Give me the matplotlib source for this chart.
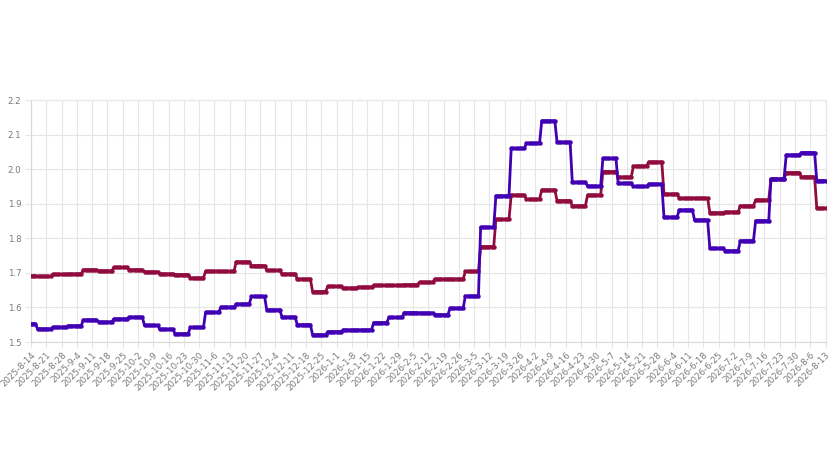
import numpy as np
import matplotlib
matplotlib.use('Agg')
import matplotlib.pyplot as plt

# ================= 資料區 =================
# 每段天數：開頭 3 天、中間 51 週、最後 5 天（共 365 天）
block_days = [3] + [7] * 51 + [5]

# 各段的水準值
red_levels = [
    1.692, 1.690, 1.696, 1.697, 1.709, 1.706, 1.716, 1.709, 1.703, 1.697,
    1.695, 1.685, 1.705, 1.704, 1.732, 1.721, 1.707, 1.697, 1.682, 1.646,
    1.661, 1.656, 1.659, 1.664, 1.664, 1.666, 1.673, 1.682, 1.682, 1.704,
    1.776, 1.855, 1.925, 1.913, 1.940, 1.909, 1.894, 1.925, 1.993, 1.977,
    2.009, 2.021, 1.928, 1.916, 1.916, 1.874, 1.876, 1.894, 1.911, 1.971,
    1.990, 1.978, 1.887,
]
blue_levels = [
    1.553, 1.538, 1.543, 1.547, 1.564, 1.558, 1.567, 1.572, 1.548, 1.537,
    1.524, 1.542, 1.586, 1.601, 1.610, 1.632, 1.593, 1.572, 1.550, 1.521,
    1.530, 1.535, 1.535, 1.556, 1.571, 1.585, 1.584, 1.579, 1.598, 1.633,
    1.832, 1.923, 2.060, 2.075, 2.140, 2.078, 1.962, 1.951, 2.031, 1.959,
    1.950, 1.957, 1.861, 1.882, 1.853, 1.771, 1.764, 1.793, 1.851, 1.971,
    2.041, 2.048, 1.967,
]

tick_labels = [
    "2025-8-14", "2025-8-21", "2025-8-28", "2025-9-4", "2025-9-11", "2025-9-18",
    "2025-9-25", "2025-10-2", "2025-10-9", "2025-10-16", "2025-10-23", "2025-10-30",
    "2025-11-6", "2025-11-13", "2025-11-20", "2025-11-27", "2025-12-4", "2025-12-11",
    "2025-12-18", "2025-12-25", "2026-1-1", "2026-1-8", "2026-1-15", "2026-1-22",
    "2026-1-29", "2026-2-5", "2026-2-12", "2026-2-19", "2026-2-26", "2026-3-5",
    "2026-3-12", "2026-3-19", "2026-3-26", "2026-4-2", "2026-4-9", "2026-4-16",
    "2026-4-23", "2026-4-30", "2026-5-7", "2026-5-14", "2026-5-21", "2026-5-28",
    "2026-6-4", "2026-6-11", "2026-6-18", "2026-6-25", "2026-7-2", "2026-7-9",
    "2026-7-16", "2026-7-23", "2026-7-30", "2026-8-6", "2026-8-13",
]

red_series = np.repeat(red_levels, block_days)
blue_series = np.repeat(blue_levels, block_days)
days = np.arange(len(red_series))

# ================= 畫圖區 =================
RED = '#900C3F'
BLUE = '#4200B4'
GRID = '#E6E6E6'
TEXT = '#7A7A7A'

fig = plt.figure(figsize=(8.4, 4.73), dpi=100, facecolor='white')
ax = fig.add_axes([31 / 840, 1 - 342 / 473, (825.5 - 31) / 840, (342 - 100) / 473])

ax.plot(days, red_series, color=RED, lw=2, marker='o', ms=3.2, mew=0, zorder=3)
ax.plot(days, blue_series, color=BLUE, lw=2, marker='o', ms=3.2, mew=0, zorder=4)

ax.set_xlim(0, len(days) - 1)
ax.set_ylim(1.5, 2.2)
ax.set_yticks(np.arange(1.5, 2.21, 0.1))
ax.set_yticklabels([f"{v:.1f}" for v in np.arange(1.5, 2.21, 0.1)])
ax.set_xticks(np.arange(0, len(days), 7))
ax.set_xticklabels(tick_labels, rotation=45, ha='right', va='top',
                   rotation_mode='anchor')

ax.grid(True, color=GRID, lw=0.8)
ax.set_axisbelow(True)
ax.tick_params(axis='both', colors=GRID, labelcolor=TEXT, labelsize=6.2,
               length=4, width=0.8)
ax.tick_params(axis='x', pad=2)
ax.tick_params(axis='y', pad=3)
for s in ax.spines.values():
    s.set_color(GRID)
    s.set_linewidth(0.8)
ax.spines['left'].set_color('#D8D8D8')
ax.spines['bottom'].set_color('#D8D8D8')

fig.savefig('out.png', dpi=100, facecolor='white')
